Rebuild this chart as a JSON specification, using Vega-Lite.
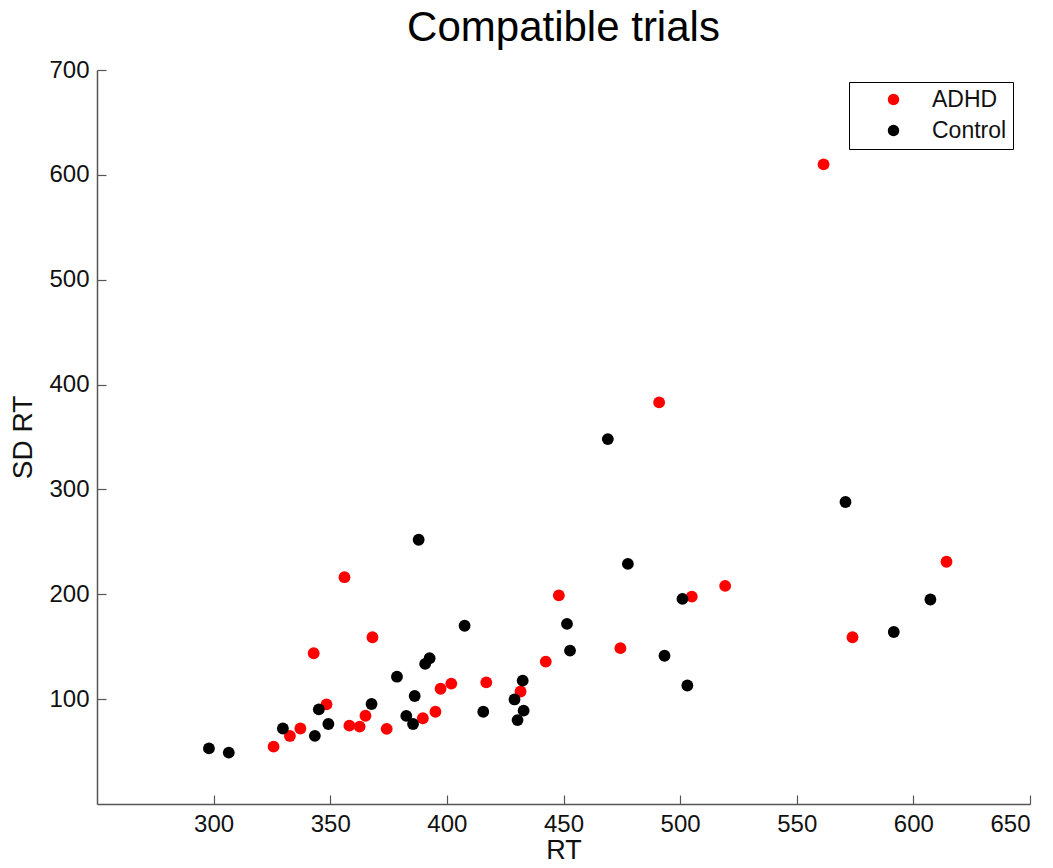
{
  "$schema": "https://vega.github.io/schema/vega-lite/v6.json",
  "autosize": "none",
  "width": 933,
  "height": 734,
  "padding": {"left": 97, "top": 70, "right": 23, "bottom": 64},
  "background": "white",
  "config": {
    "font": "Liberation Sans",
    "view": {"stroke": null},
    "axis": {
      "grid": false,
      "domainColor": "#555555",
      "tickColor": "#555555",
      "domainWidth": 1.5,
      "tickWidth": 1.2,
      "labelColor": "#111111",
      "titleColor": "#111111",
      "labelFont": "Liberation Sans",
      "titleFont": "Liberation Sans",
      "labelFontSize": 24,
      "titleFontWeight": "normal"
    }
  },
  "title": {
    "text": "Compatible trials",
    "fontSize": 42,
    "fontWeight": "normal",
    "font": "Liberation Sans",
    "color": "#000000",
    "anchor": "middle",
    "offset": 8
  },
  "data": {
    "values": [
      {"RT": 561.5, "SD": 610, "Group": "ADHD"},
      {"RT": 491.0, "SD": 383, "Group": "ADHD"},
      {"RT": 614.2, "SD": 231, "Group": "ADHD"},
      {"RT": 519.3, "SD": 208, "Group": "ADHD"},
      {"RT": 505.0, "SD": 197.8, "Group": "ADHD"},
      {"RT": 448.0, "SD": 199, "Group": "ADHD"},
      {"RT": 573.9, "SD": 159, "Group": "ADHD"},
      {"RT": 474.4, "SD": 148.6, "Group": "ADHD"},
      {"RT": 442.4, "SD": 135.8, "Group": "ADHD"},
      {"RT": 416.9, "SD": 116, "Group": "ADHD"},
      {"RT": 401.9, "SD": 114.8, "Group": "ADHD"},
      {"RT": 397.3, "SD": 109.9, "Group": "ADHD"},
      {"RT": 431.6, "SD": 107.3, "Group": "ADHD"},
      {"RT": 395.1, "SD": 88, "Group": "ADHD"},
      {"RT": 389.7, "SD": 81.8, "Group": "ADHD"},
      {"RT": 374.2, "SD": 71.6, "Group": "ADHD"},
      {"RT": 365.1, "SD": 84.2, "Group": "ADHD"},
      {"RT": 362.6, "SD": 73.8, "Group": "ADHD"},
      {"RT": 358.2, "SD": 74.7, "Group": "ADHD"},
      {"RT": 356.1, "SD": 216.3, "Group": "ADHD"},
      {"RT": 368.1, "SD": 159, "Group": "ADHD"},
      {"RT": 342.9, "SD": 143.8, "Group": "ADHD"},
      {"RT": 348.4, "SD": 95, "Group": "ADHD"},
      {"RT": 337.2, "SD": 72, "Group": "ADHD"},
      {"RT": 332.7, "SD": 64.9, "Group": "ADHD"},
      {"RT": 325.7, "SD": 54.7, "Group": "ADHD"},
      {"RT": 387.9, "SD": 252, "Group": "Control"},
      {"RT": 407.6, "SD": 170, "Group": "Control"},
      {"RT": 392.6, "SD": 139, "Group": "Control"},
      {"RT": 390.7, "SD": 133.6, "Group": "Control"},
      {"RT": 378.6, "SD": 121.4, "Group": "Control"},
      {"RT": 386.2, "SD": 103, "Group": "Control"},
      {"RT": 367.7, "SD": 95.4, "Group": "Control"},
      {"RT": 345.1, "SD": 90.2, "Group": "Control"},
      {"RT": 349.2, "SD": 76.3, "Group": "Control"},
      {"RT": 329.7, "SD": 72, "Group": "Control"},
      {"RT": 343.4, "SD": 65, "Group": "Control"},
      {"RT": 382.6, "SD": 84, "Group": "Control"},
      {"RT": 385.5, "SD": 76.3, "Group": "Control"},
      {"RT": 298.0, "SD": 53, "Group": "Control"},
      {"RT": 306.5, "SD": 49, "Group": "Control"},
      {"RT": 415.6, "SD": 88, "Group": "Control"},
      {"RT": 432.5, "SD": 117.6, "Group": "Control"},
      {"RT": 429.0, "SD": 99.7, "Group": "Control"},
      {"RT": 432.9, "SD": 89, "Group": "Control"},
      {"RT": 430.3, "SD": 80, "Group": "Control"},
      {"RT": 451.5, "SD": 171.8, "Group": "Control"},
      {"RT": 452.8, "SD": 146.3, "Group": "Control"},
      {"RT": 477.6, "SD": 229, "Group": "Control"},
      {"RT": 501.0, "SD": 195.6, "Group": "Control"},
      {"RT": 493.3, "SD": 141.4, "Group": "Control"},
      {"RT": 503.1, "SD": 113, "Group": "Control"},
      {"RT": 469.0, "SD": 348, "Group": "Control"},
      {"RT": 570.9, "SD": 288, "Group": "Control"},
      {"RT": 591.6, "SD": 164, "Group": "Control"},
      {"RT": 607.3, "SD": 195, "Group": "Control"}
    ]
  },
  "mark": {"type": "circle", "size": 140, "opacity": 1},
  "encoding": {
    "x": {
      "field": "RT",
      "type": "quantitative",
      "title": "RT",
      "scale": {"domain": [250, 650], "nice": false, "zero": false},
      "axis": {
        "values": [300, 350, 400, 450, 500, 550, 600, 650],
        "tickSize": -9,
        "labelPadding": 17,
        "titleFontSize": 27,
        "titlePadding": 1
      }
    },
    "y": {
      "field": "SD",
      "type": "quantitative",
      "title": "SD RT",
      "scale": {"domain": [0, 700], "nice": false},
      "axis": {
        "values": [100, 200, 300, 400, 500, 600, 700],
        "tickSize": -9,
        "labelPadding": 17,
        "titleFontSize": 28,
        "titlePadding": 11
      }
    },
    "color": {
      "field": "Group",
      "type": "nominal",
      "scale": {"domain": ["ADHD", "Control"], "range": ["#ff0000", "#000000"]},
      "legend": {
        "title": null,
        "orient": "none",
        "legendX": 752,
        "legendY": 12,
        "strokeColor": "#000000",
        "fillColor": "#ffffff",
        "padding": 6,
        "symbolType": "circle",
        "symbolSize": 130,
        "symbolOffset": 27,
        "labelOffset": 27,
        "labelFontSize": 23,
        "labelFont": "Liberation Sans",
        "labelColor": "#111111",
        "labelExpr": "datum.label + '\u00a0\u00a0'",
        "rowPadding": 7
      }
    }
  }
}
